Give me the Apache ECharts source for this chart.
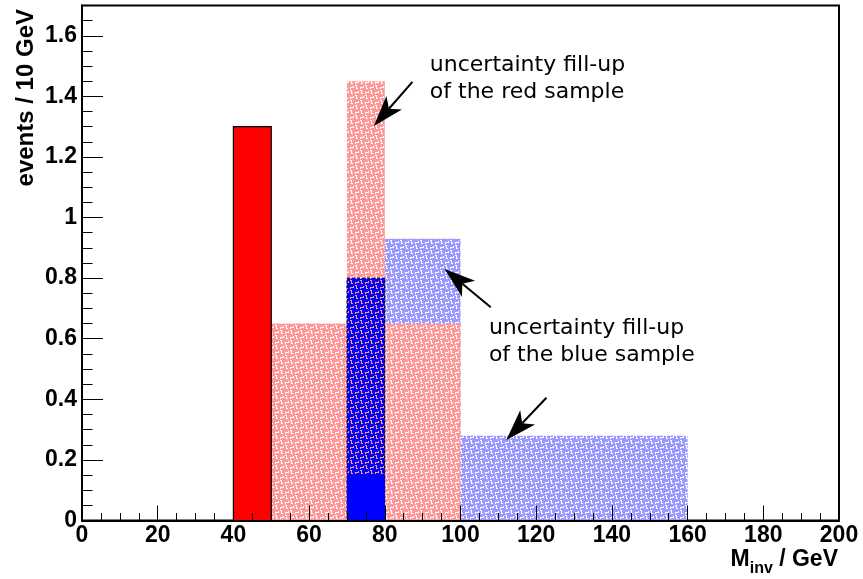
<!DOCTYPE html>
<html><head><meta charset="utf-8">
<script src="https://cdn.jsdelivr.net/npm/echarts@6/dist/echarts.min.js"></script>
<style>html,body{margin:0;padding:0;background:#fff}#c{width:863px;height:579px}</style>
</head><body><div id="c"></div>
<script>
// ---------------- data ----------------
const xRange = [0, 200];
const yRange = [0, 1.7];
const redSolidEdges = [40, 50];
const redSolidValues = [1.3];
const redUncEdges = [50, 70, 80, 100];
const redUncValues = [0.65, 1.45, 0.65];
const blueUncEdges = [80, 100, 160];
const blueUncValues = [0.93, 0.28];
const blueUncInnerEdges = [70, 80];
const blueUncInnerValues = [0.8];
const blueSolidEdges = [70, 80];
const blueSolidValues = [0.15];
const arrowTails = [[87.3, 1.448], [108.0, 0.704], [122.7, 0.405]];
const arrowHeads = [[77.1, 1.302], [95.8, 0.830], [112.1, 0.266]];
const noteLines = [["uncertainty fill-up", "of the red sample"], ["uncertainty fill-up", "of the blue sample"]];
const notePos = [[91.9, 1.547], [107.5, 0.678]];
const yTitle = "events / 10 GeV";
const xTitleMain = "M", xTitleSub = "inv", xTitleTail = " / GeV";

// ---------------- helpers ----------------
function bins(edges, values) { return values.map((v, i) => [edges[i], edges[i + 1], 0, v]); }

const weave = [
  "1100000000",
  "0100000010",
  "0100011110",
  "0110010000",
  "0000000000",
  "0000011000",
  "0001001000",
  "1111001000",
  "1000001100",
  "0000000000"
];
function makePattern(bg, fg) {
  const n = weave.length;
  const c = document.createElement('canvas');
  c.width = n; c.height = n;
  const g = c.getContext('2d');
  g.fillStyle = bg; g.fillRect(0, 0, n, n);
  g.fillStyle = fg;
  for (let y = 0; y < n; y++) for (let x = 0; x < n; x++) if (weave[y][x] === '1') g.fillRect(x, y, 1, 1);
  return { image: c, repeat: 'repeat' };
}
const PINK = '#ff9999', LBLUE = '#9999ff';
const pinkPat = makePattern(PINK, '#ffffff');
const bluePat = makePattern(LBLUE, '#ffffff');
const darkPat = makePattern('#0000ff', PINK);

function histSeries(name, data, style, z) {
  return {
    type: 'custom', name: name, data: data, z: z, silent: true,
    encode: { x: [0, 1], y: [2, 3] },
    renderItem: function (params, api) {
      const p0 = api.coord([api.value(0), api.value(3)]);
      const p1 = api.coord([api.value(1), api.value(2)]);
      return {
        type: 'rect',
        shape: { x: p0[0], y: p0[1], width: p1[0] - p0[0], height: p1[1] - p0[1] },
        style: Object.assign({}, style)
      };
    }
  };
}

const LF = 'Liberation Sans, Arial, Helvetica, sans-serif';
const labelStyle = { fontFamily: LF, fontWeight: 'bold', fontSize: 23, color: '#000' };
const black1 = { color: '#000', width: 1 };

// x-title pieces measured so that "M", subscript "inv" and " / GeV" sit side by side
const TS = 23, SS = 16;
const mctx = document.createElement('canvas').getContext('2d');
mctx.font = 'bold ' + TS + 'px ' + LF; const wTail = mctx.measureText(xTitleTail).width;
mctx.font = 'bold ' + SS + 'px ' + LF; const wSub = mctx.measureText(xTitleSub).width;
const xTitleRight = 838, xTitleMid = 559.5, xSubMid = 569;

const chart = echarts.init(document.getElementById('c'), null, { renderer: 'canvas' });
chart.setOption({
  animation: false,
  backgroundColor: '#fff',
  grid: { left: 82, right: 24, top: 5.5, bottom: 58.5, show: true, borderColor: '#000', borderWidth: 2,
          containLabel: false, outerBoundsMode: 'none' },
  xAxis: {
    type: 'value', min: xRange[0], max: xRange[1], interval: 20, z: 10,
    axisLine: { show: true, onZero: false, lineStyle: { color: '#000', width: 2 } },
    axisTick: { show: true, inside: true, length: 15, lineStyle: black1 },
    minorTick: { show: true, splitNumber: 4, length: 7.5, lineStyle: black1 },
    splitLine: { show: false }, minorSplitLine: { show: false },
    axisLabel: Object.assign({ margin: 4, hideOverlap: false }, labelStyle)
  },
  yAxis: [
    {
      type: 'value', min: yRange[0], max: yRange[1], interval: 0.2, z: 10, position: 'left',
      axisLine: { show: true, onZero: false, lineStyle: { color: '#000', width: 2 } },
      axisTick: { show: true, inside: true, length: 21, lineStyle: black1 },
      splitLine: { show: false },
      axisLabel: Object.assign({ margin: 5, showMaxLabel: false, hideOverlap: false }, labelStyle)
    },
    {
      type: 'value', min: yRange[0], max: yRange[1], interval: 0.05, z: 10, position: 'left', offset: 0,
      axisLine: { show: false },
      axisTick: { show: true, inside: true, length: 10.5, lineStyle: black1 },
      splitLine: { show: false },
      axisLabel: { show: false }
    }
  ],
  series: [
    histSeries('blue uncertainty', bins(blueUncEdges, blueUncValues), { fill: bluePat }, 2),
    histSeries('red uncertainty', bins(redUncEdges, redUncValues), { fill: pinkPat }, 3),
    histSeries('red sample', bins(redSolidEdges, redSolidValues), { fill: '#ff0000', stroke: '#000', lineWidth: 1.2 }, 4),
    histSeries('blue uncertainty inner', bins(blueUncInnerEdges, blueUncInnerValues), { fill: darkPat, stroke: '#000', lineWidth: 1, lineDash: [3, 2] }, 5),
    histSeries('blue sample', bins(blueSolidEdges, blueSolidValues), { fill: '#0000ff' }, 6),
    {
      type: 'custom', name: 'arrows', z: 20, silent: true,
      data: arrowTails.map((t, i) => [t[0], t[1], arrowHeads[i][0], arrowHeads[i][1]]),
      encode: { x: [0, 2], y: [1, 3] },
      renderItem: function (params, api) {
        const a = api.coord([api.value(0), api.value(1)]);
        const b = api.coord([api.value(2), api.value(3)]);
        const dx = b[0] - a[0], dy = b[1] - a[1], L = Math.hypot(dx, dy);
        const ux = dx / L, uy = dy / L, nx = -uy, ny = ux;
        const HL = 31, HW = 10.3, NOTCH = 23;
        const base = [b[0] - ux * HL, b[1] - uy * HL];
        const notch = [b[0] - ux * NOTCH, b[1] - uy * NOTCH];
        return {
          type: 'group', children: [
            { type: 'line', shape: { x1: a[0], y1: a[1], x2: notch[0], y2: notch[1] }, style: { stroke: '#000', lineWidth: 2 } },
            { type: 'polygon', shape: { points: [b, [base[0] + nx * HW, base[1] + ny * HW], notch, [base[0] - nx * HW, base[1] - ny * HW]] }, style: { fill: '#000' } }
          ]
        };
      }
    },
    {
      type: 'custom', name: 'notes', z: 20, silent: true,
      data: notePos.map((p, i) => [p[0], p[1], i]),
      encode: { x: 0, y: 1 },
      renderItem: function (params, api) {
        const p = api.coord([api.value(0), api.value(1)]);
        const i = api.value(2);
        return {
          type: 'text', x: p[0], y: p[1],
          style: { text: noteLines[i].join('\n'), fill: '#000', fontSize: 22, fontFamily: 'DejaVu Sans', lineHeight: 27, align: 'left', verticalAlign: 'top' }
        };
      }
    }
  ],
  graphic: [
    { type: 'text', x: 26, y: 9, rotation: Math.PI / 2,
      style: { text: yTitle, fill: '#000', fontSize: 24, fontWeight: 'bold', fontFamily: LF, align: 'right', verticalAlign: 'middle' } },
    { type: 'text', x: xTitleRight, y: xTitleMid,
      style: { text: xTitleTail, fill: '#000', fontSize: TS, fontWeight: 'bold', fontFamily: LF, align: 'right', verticalAlign: 'middle' } },
    { type: 'text', x: xTitleRight - wTail, y: xSubMid,
      style: { text: xTitleSub, fill: '#000', fontSize: SS, fontWeight: 'bold', fontFamily: LF, align: 'right', verticalAlign: 'middle' } },
    { type: 'text', x: xTitleRight - wTail - wSub, y: xTitleMid,
      style: { text: xTitleMain, fill: '#000', fontSize: TS, fontWeight: 'bold', fontFamily: LF, align: 'right', verticalAlign: 'middle' } }
  ]
});
</script>
</body></html>
